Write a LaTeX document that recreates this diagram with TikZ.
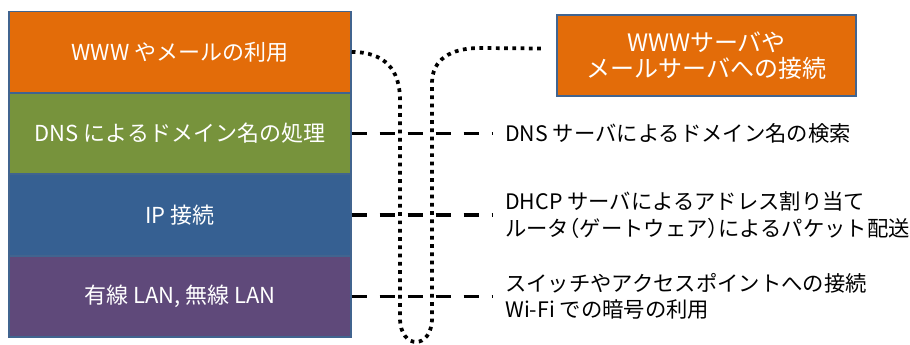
\documentclass[tikz,border=0pt]{standalone}
\usepackage{fontspec}
\setmainfont{Noto Sans CJK JP}
\definecolor{wwwc}{HTML}{E36C09}
\definecolor{dnsc}{HTML}{77933C}
\definecolor{ipc}{HTML}{366092}
\definecolor{lanc}{HTML}{5F497A}
\definecolor{edgec}{HTML}{41648F}
\newcommand{\halfw}[1]{{\addfontfeature{RawFeature=+halt}#1}}
\begin{document}
\begin{tikzpicture}[x=0.75pt, y=0.75pt,
  layer/.style={draw=edgec, line width=1.1pt, text=white, minimum width=256.5pt, minimum height=61pt, align=center, font=\fontsize{16.5}{20}\selectfont},
  note/.style={anchor=west, align=left, inner xsep=9.75pt, inner ysep=0pt, font=\fontsize{16}{20}\selectfont},
  tie/.style={line width=2.8pt, dash pattern=on 11.25pt off 9.75pt},
  loop/.style={line width=2.8pt, dash pattern=on 2.8pt off 3.4pt}]
  \useasboundingbox (0,0) rectangle (910,345);
  \node[layer, fill=wwwc] (www) at (180,293) {WWW やメールの利用};
  \node[layer, fill=dnsc] (dns) at (180,211.5) {DNS によるドメイン名の処理};
  \node[layer, fill=ipc] (ip) at (180,130) {IP 接続};
  \node[layer, fill=lanc] (lan) at (180,48.5) {有線 LAN, 無線 LAN};
  \node[layer, fill=wwwc, minimum width=224pt, font=\fontsize{18}{20}\selectfont] (srv) at (706.5,289.5) {WWWサーバや\\メールサーバへの接続};
  \node[note] (dnsnote) at (492,211.5) {DNS サーバによるドメイン名の検索};
  \node[note] (ipnote) at (492,130) {DHCP サーバによるアドレス割り当て\\ルータ\halfw{（}ゲートウェア\halfw{）}によるパケット配送};
  \node[note] (lannote) at (492,48.5) {スイッチやアクセスポイントへの接続\\Wi-Fi での暗号の利用};
  \draw[tie] (dns.east) -- (dnsnote.west);
  \draw[tie] (ip.east) -- (ipnote.west);
  \draw[tie] (lan.east) -- (lannote.west);
  \draw[loop] (www.east) .. controls (385,293) and (400,275) .. (400,245) -- (400,27)
    .. controls (400,-5) and (432,-5) .. (432,27) -- (432,262)
    .. controls (432,285) and (450,297) .. (480,297) -- ([xshift=-10.5pt, yshift=5.25pt]srv.west);
\end{tikzpicture}
\end{document}
